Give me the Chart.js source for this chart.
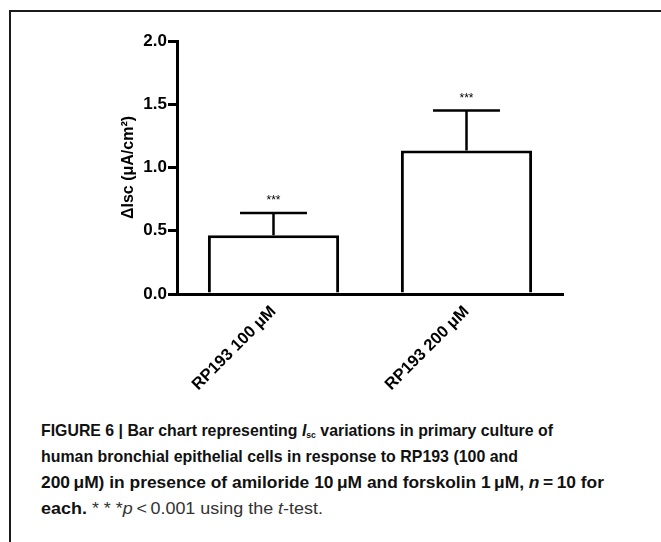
<!DOCTYPE html>
<html>
<head>
<meta charset="utf-8">
<script src="https://cdn.jsdelivr.net/npm/chart.js@4/dist/chart.umd.min.js"></script>
<style>
  html, body { margin: 0; padding: 0; background: #fff; }
  body { width: 661px; height: 542px; position: relative; overflow: hidden; }
  .frame { position: absolute; left: 9px; top: 10px; width: 660px; height: 540px; border-top: 2px solid #1a1a1a; border-left: 2px solid #1a1a1a; }
  .plot { position: absolute; left: 0; top: 0; width: 661px; height: 410px; }
  .caption { position: absolute; left: 41px; top: 417px; font-family: "Liberation Sans", Arial, sans-serif; font-size: 16.5px; color: #111; white-space: nowrap; }
  .caption .row { height: 26px; line-height: 26px; }
  .caption .line { display: inline-block; transform-origin: left center; }
  .caption b { font-weight: bold; }
  .caption .rest { font-weight: normal; color: #333; }
  .caption sub { font-size: 9px; line-height: 0; vertical-align: -2px; }
</style>
</head>
<body>
<div class="frame"></div>
<div class="plot"><canvas id="barChart"></canvas></div>
<div class="caption">
  <div class="row"><span class="line"><b>FIGURE 6 | Bar chart representing <i>I</i><sub>sc</sub> variations in primary culture of</b></span></div>
  <div class="row"><span class="line"><b>human bronchial epithelial cells in response to RP193 (100 and</b></span></div>
  <div class="row"><span class="line"><b>200&#8201;μM) in presence of amiloride 10&#8201;μM and forskolin 1&#8201;μM, <i>n</i>&#8201;=&#8201;10 for</b></span></div>
  <div class="row"><span class="line"><b>each.</b> <span class="rest">* * *<i>p</i>&#8201;&lt;&#8201;0.001 using the <i>t</i>-test.</span></span></div>
</div>
<script>
// Datos del gráfico
const categories = ['RP193 100 μM', 'RP193 200 μM'];
const meanValues = [0.465, 1.135];
const semValues = [0.175, 0.315];
const sigLabels = ['***', '***'];
const yTicks = [0.0, 0.5, 1.0, 1.5, 2.0];

const fontFamily = '"Liberation Sans", Arial, Helvetica, sans-serif';

// Leyenda condensada: ancho de cada línea como en la figura
const lineWidths = [512, 477, 563, 282];
document.querySelectorAll('.caption .line').forEach((el, i) => {
    const w = el.getBoundingClientRect().width;
    if (w > 0) el.style.transform = 'scaleX(' + (lineWidths[i] / w) + ')';
});

// Barras de error + asteriscos
const errorBarsPlugin = {
    id: 'errorBars',
    afterDatasetsDraw(chart) {
        const ctx = chart.ctx;
        const yScale = chart.scales.y;
        const meta = chart.getDatasetMeta(0);
        ctx.save();
        ctx.strokeStyle = '#000';
        ctx.lineWidth = 2.5;
        meta.data.forEach((bar, i) => {
            const x = bar.x;
            const yTop = yScale.getPixelForValue(meanValues[i]);
            const yErr = yScale.getPixelForValue(meanValues[i] + semValues[i]);
            const capHalf = bar.width * 0.255;
            ctx.beginPath();
            ctx.moveTo(x, yTop);
            ctx.lineTo(x, yErr);
            ctx.moveTo(x - capHalf, yErr);
            ctx.lineTo(x + capHalf, yErr);
            ctx.stroke();
            ctx.fillStyle = '#000';
            ctx.font = '12px ' + fontFamily;
            ctx.textAlign = 'center';
            ctx.textBaseline = 'middle';
            ctx.fillText(sigLabels[i], x, yErr - 12);
        });
        ctx.restore();
    }
};

new Chart(document.getElementById('barChart'), {
    type: 'bar',
    data: {
        labels: categories,
        datasets: [{
            data: meanValues,
            backgroundColor: '#fff',
            borderColor: '#000',
            borderWidth: 3,
            barPercentage: 0.68,
            categoryPercentage: 1.0,
        }]
    },
    options: {
        responsive: true, maintainAspectRatio: false,
        animation: false,
        layout: { padding: { top: 41, right: 98, left: 119, bottom: 0 } },
        plugins: { legend: { display: false }, tooltip: { enabled: false } },
        scales: {
            x: {
                grid: { display: false },
                border: { display: true, color: '#000', width: 3 },
                ticks: {
                    color: '#000', minRotation: 45, maxRotation: 45, padding: 0,
                    font: { family: fontFamily, size: 16.5, weight: 'bold' }
                },
                afterFit: (scale) => { scale.height = 116; }
            },
            y: {
                min: 0, max: 2,
                afterBuildTicks: (scale) => { scale.ticks = yTicks.map(v => ({ value: v })); },
                grid: { drawOnChartArea: false, drawTicks: true, tickLength: 9, lineWidth: 3, color: '#000' },
                border: { display: true, color: '#000', width: 3 },
                ticks: {
                    color: '#000', padding: 1,
                    font: { family: fontFamily, size: 17, weight: 'bold' },
                    callback: (v) => Number(v).toFixed(1)
                },
                title: {
                    display: true, text: 'ΔIsc (μA/cm²)', color: '#000',
                    font: { family: fontFamily, size: 16, weight: 'bold' },
                    padding: { top: 0, bottom: 4 }
                },
                afterFit: (scale) => { scale.width = 58; }
            }
        }
    },
    plugins: [errorBarsPlugin]
});
</script>
</body>
</html>
